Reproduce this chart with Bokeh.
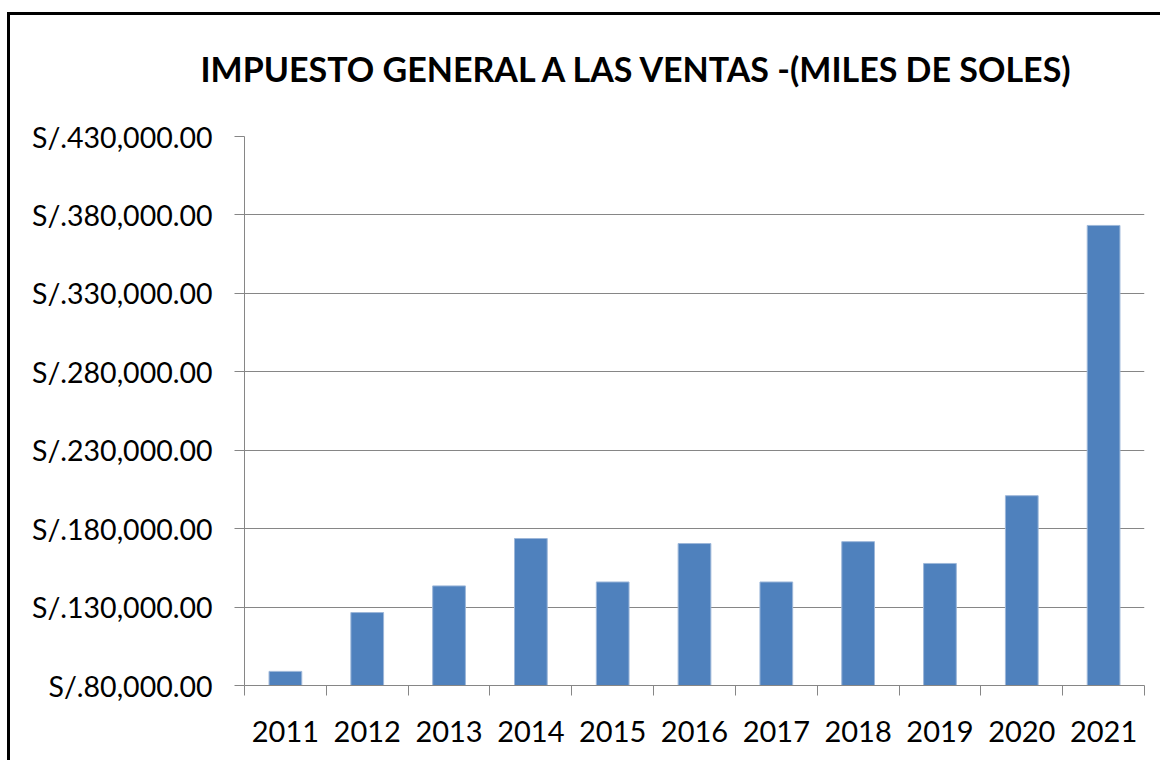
from bokeh.plotting import figure
from bokeh.models import Range1d, FixedTicker, ColumnDataSource
from bokeh.embed import file_html
from bokeh.resources import INLINE

# ---- data ----
years = ["2011", "2012", "2013", "2014", "2015", "2016", "2017", "2018", "2019", "2020", "2021"]
igv = [89000, 126500, 143500, 173700, 146000, 170500, 146000, 171700, 157800, 201000, 373300]
y_ticks = [80000, 130000, 180000, 230000, 280000, 330000, 380000, 430000]
y_tick_labels = ["S/.80,000.00", "S/.130,000.00", "S/.180,000.00", "S/.230,000.00",
                 "S/.280,000.00", "S/.330,000.00", "S/.380,000.00", "S/.430,000.00"]
title_text = "IMPUESTO GENERAL A LAS VENTAS -(MILES DE SOLES)"

FONT = "Lato"
BAR = "#4F81BD"
GRID = "#868686"

xs = list(range(len(years)))
src = ColumnDataSource(dict(x=xs, top=igv, year=years))

p = figure(width=1160, height=760, output_backend="svg", toolbar_location=None,
           x_range=Range1d(-0.5, len(years) - 0.5),
           y_range=Range1d(y_ticks[0], y_ticks[-1]),
           min_border_left=244, min_border_right=16,
           min_border_top=136, min_border_bottom=75,
           title=title_text)
# chart-area frame (top and left edges) drawn as CSS background behind a transparent border fill
p.styles = {"background": "linear-gradient(#000, #000) 7px 12px / 100% 3px no-repeat, "
                          "linear-gradient(#000, #000) 7px 12px / 3px 100% no-repeat, #ffffff"}

p.vbar(x="x", top="top", bottom=y_ticks[0], width=0.4, source=src,
       fill_color=BAR, line_color="#9DB7D9", line_width=1)

# title
p.title.text_font = FONT
p.title.text_font_style = "bold"
p.title.text_font_size = "34px"
p.title.text_color = "black"
p.title.align = "left"
p.title.vertical_align = "top"
p.title.offset = -44
p.title.standoff = 92

p.outline_line_color = None
p.background_fill_color = "white"
p.border_fill_color = None

# y axis
p.yaxis.ticker = FixedTicker(ticks=y_ticks)
p.yaxis.major_label_overrides = {t: l for t, l in zip(y_ticks, y_tick_labels)}
p.yaxis.major_label_text_font = FONT
p.yaxis.major_label_text_font_size = "28.5px"
p.yaxis.major_label_text_color = "black"
p.yaxis.axis_line_color = GRID
p.yaxis.major_tick_line_color = GRID
p.yaxis.major_tick_out = 10
p.yaxis.major_tick_in = 0
p.yaxis.minor_tick_line_color = None
p.yaxis.major_label_standoff = 22

p.ygrid.grid_line_color = GRID
p.ygrid.grid_line_width = 1
p.xgrid.grid_line_color = None

# x axis: labels at centers, ticks at boundaries
bounds = [i - 0.5 for i in range(len(years) + 1)]
p.xaxis.ticker = FixedTicker(ticks=xs, minor_ticks=bounds)
p.xaxis.major_label_overrides = {i: y for i, y in zip(xs, years)}
p.xaxis.major_label_text_font = FONT
p.xaxis.major_label_text_font_size = "29px"
p.xaxis.major_label_text_color = "black"
p.xaxis.axis_line_color = GRID
p.xaxis.major_tick_line_color = None
p.xaxis.major_tick_out = 0
p.xaxis.major_tick_in = 0
p.xaxis.minor_tick_line_color = GRID
p.xaxis.minor_tick_out = 10
p.xaxis.minor_tick_in = 0
p.xaxis.major_label_standoff = 25

open("out.html", "w").write(file_html(p, INLINE))
